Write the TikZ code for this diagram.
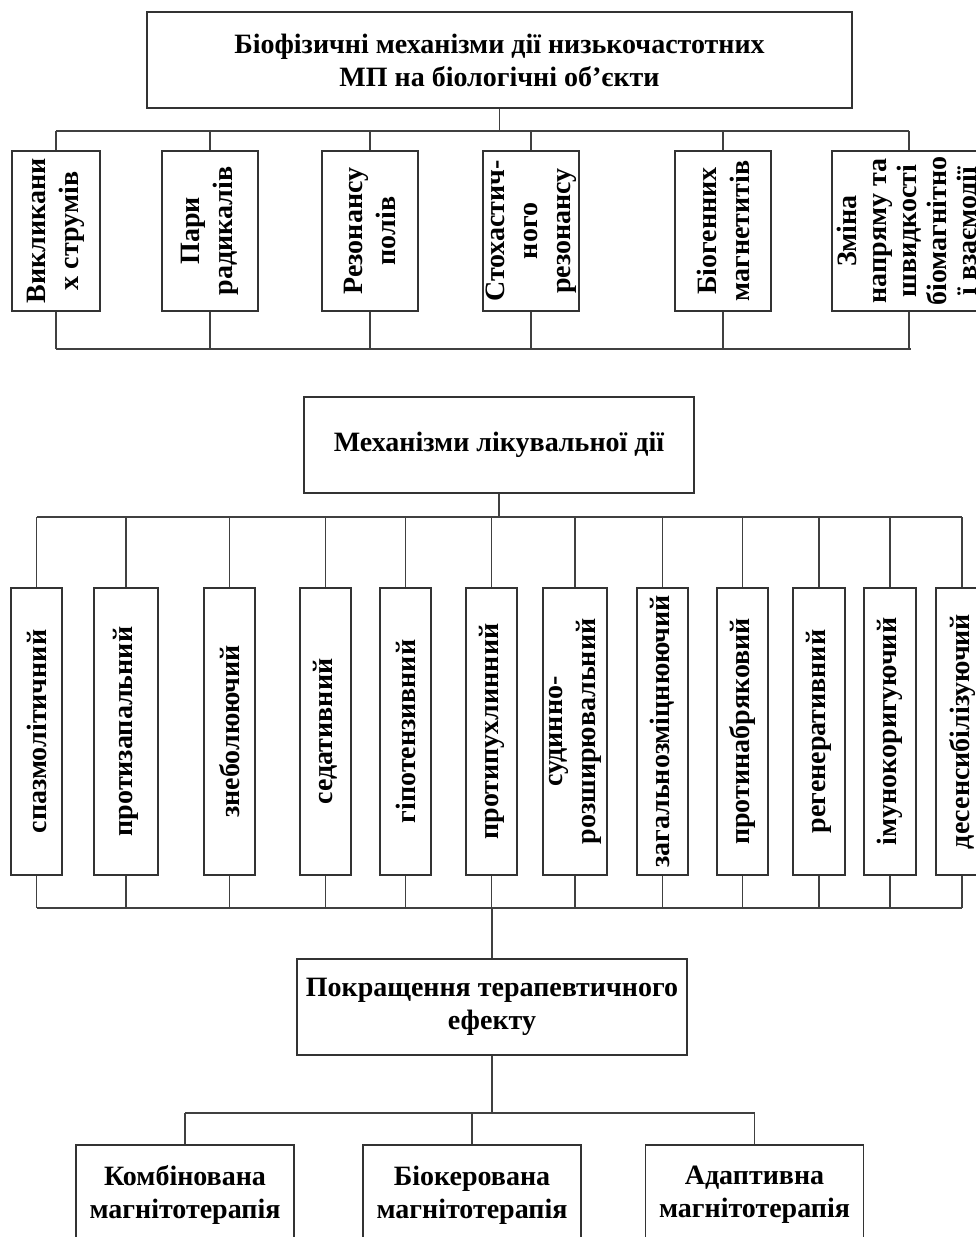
\documentclass[tikz,border=0pt]{standalone}
\usepackage{fontspec}
\setmainfont{Liberation Serif}
\newcommand\labfont{\bfseries\fontsize{28}{33}\selectfont}
\begin{document}
\begin{tikzpicture}[x=1pt,y=-1pt,
  wire/.style={draw=black!75, line width=1.2pt},
  box/.style={draw=black!80, line width=1.2pt, inner sep=0pt, fill=white},
  lab/.style={font=\labfont, align=center, inner sep=0pt, text=black},
  vlab/.style={lab, rotate=90},
]
% vertical box: name, x, y, width, height, text
\newcommand\vbx[6]{%
  \node[box, minimum width=#4pt, minimum height=#5pt] (#1) at (#2,#3) {};
  \node[vlab] (#1t) at (#1.center) {#6};
}
\clip (0,0) rectangle (976,1237);
\fill[white] (0,0) rectangle (976,1237);

% ---- biophysical mechanisms ----
\node[box, lab, minimum width=705pt, minimum height=96pt] (top) at (499.5,60)
  {Біофізичні механізми дії низькочастотних\\МП на біологічні об’єкти};

\vbx{a1}{56}{231}{88}{160}{Викликани\\х струмів}
\vbx{a2}{210}{231}{96}{160}{Пари\\радикалів}
\vbx{a3}{370}{231}{96}{160}{Резонансу\\полів}
\vbx{a4}{531}{231}{96}{160}{Стохастич-\\ного\\резонансу}
\vbx{a5}{723}{231}{96}{160}{Біогенних\\магнетитів}
\node[box, minimum width=154pt, minimum height=160pt] (a6) at (909,231) {};
\node[vlab, font=\bfseries\fontsize{28}{30}\selectfont] (a6t) at (a6.center)
  {Зміна\\напряму та\\швидкості\\біомагнітно\\ї взаємодії};

\coordinate (busA) at (0,131);
\coordinate (busB) at (0,349);
\draw[wire] (top.south) -- (top.south |- busA);
\draw[wire] (a1.north |- busA) -- (a6.north |- busA);
\draw[wire] (a1.south |- busB) -- ([xshift=2pt]a6.south |- busB);
\foreach \n in {a1,a2,a3,a4,a5,a6} {
  \draw[wire] (\n.north) -- (\n.north |- busA);
  \draw[wire] (\n.south) -- (\n.south |- busB);
}

% ---- therapeutic mechanisms ----
\node[box, lab, minimum width=390pt, minimum height=96pt] (mid) at (499,445)
  {Механізми лікувальної дії};

\vbx{b1}{36.5}{731.5}{51}{287}{спазмолітичний}
\vbx{b2}{126}{731.5}{64}{287}{протизапальний}
\vbx{b3}{229.5}{731.5}{51}{287}{знеболюючий}
\vbx{b4}{325.5}{731.5}{51}{287}{седативний}
\vbx{b5}{405.5}{731.5}{51}{287}{гіпотензивний}
\vbx{b6}{491.5}{731.5}{51}{287}{протипухлинний}
\vbx{b7}{575}{731.5}{64}{287}{судинно-\\розширювальний}
\vbx{b8}{662.5}{731.5}{51}{287}{загальнозміцнюючий}
\vbx{b9}{742.5}{731.5}{51}{287}{протинабряковий}
\vbx{b10}{819}{731.5}{52}{287}{регенеративний}
\vbx{b11}{890}{731.5}{52}{287}{імунокоригуючий}
\vbx{b12}{962}{731.5}{52}{287}{десенсибілізуючий}

\coordinate (busC) at (0,517);
\coordinate (busD) at (0,908);
\draw[wire] (mid.south) -- (mid.south |- busC);
\draw[wire] (b1.north |- busC) -- (b12.north |- busC);
\draw[wire] (b1.south |- busD) -- (b12.south |- busD);
\foreach \n in {b1,b2,b3,b4,b5,b6,b7,b8,b9,b10,b11,b12} {
  \draw[wire] (\n.north) -- (\n.north |- busC);
  \draw[wire] (\n.south) -- (\n.south |- busD);
}

% ---- improvement of the therapeutic effect ----
\node[box, lab, minimum width=390pt, minimum height=96pt] (eff) at (492,1007)
  {Покращення терапевтичного\\ефекту};
\draw[wire] (eff.north |- busD) -- (eff.north);

\node[box, lab, minimum width=218pt, minimum height=100pt] (c1) at (185,1195)
  {Комбінована\\магнітотерапія};
\node[box, lab, minimum width=218pt, minimum height=100pt] (c2) at (472,1195)
  {Біокерована\\магнітотерапія};
\node[box, lab, minimum width=218pt, minimum height=100pt] (c3) at (754.5,1195)
  {Адаптивна\\магнітотерапія};

\coordinate (busE) at (0,1113);
\draw[wire] (eff.south) -- (eff.south |- busE);
\draw[wire] (c1.north |- busE) -- (c3.north |- busE);
\foreach \n in {c1,c2,c3} {
  \draw[wire] (\n.north) -- (\n.north |- busE);
}
\end{tikzpicture}
\end{document}
